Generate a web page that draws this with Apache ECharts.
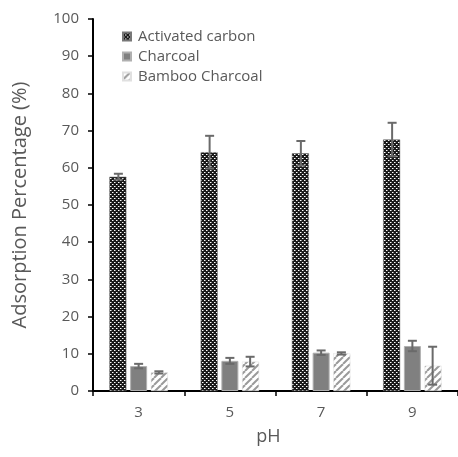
<!DOCTYPE html>
<html><head><meta charset="utf-8">
<script src="https://cdn.jsdelivr.net/npm/echarts@6/dist/echarts.min.js"></script>
<style>html,body{margin:0;padding:0;background:#fff}#c{width:458px;height:457px}</style>
</head><body><div id="c"></div>
<script>
const categories = ['3', '5', '7', '9'];
const activatedCarbon = [57.6, 64.2, 63.9, 67.6];
const activatedErr = [0.8, 4.4, 3.3, 4.5];
const charcoal = [6.7, 8.1, 10.3, 12.1];
const charcoalErr = [0.6, 0.8, 0.6, 1.4];
const bamboo = [5.0, 7.9, 10.1, 6.8];
const bambooErr = [0.3, 1.3, 0.3, 5.1];
const yTicks = [0, 10, 20, 30, 40, 50, 60, 70, 80, 90, 100];

function makePattern(kind) {
  const c = document.createElement('canvas');
  const g = c.getContext('2d');
  if (kind === 'dots') {
    c.width = 4; c.height = 4;
    g.fillStyle = '#1a1a1a'; g.fillRect(0, 0, 4, 4);
    g.fillStyle = '#ffffff';
    g.fillRect(0, 0, 1, 1); g.fillRect(2, 2, 1, 1);
    g.fillStyle = '#8a8a8a';
    g.fillRect(1, 0, 1, 1); g.fillRect(3, 2, 1, 1);
  } else {
    c.width = 7; c.height = 7;
    g.fillStyle = '#ffffff'; g.fillRect(0, 0, 7, 7);
    g.strokeStyle = '#9a9a9a'; g.lineWidth = 2;
    for (let k = -7; k <= 14; k += 7) {
      g.beginPath(); g.moveTo(k, 7); g.lineTo(k + 7, 0); g.stroke();
    }
  }
  return { image: c, repeat: 'repeat' };
}
const patDots = makePattern('dots');
const patStripe = makePattern('stripe');

const chart = echarts.init(document.getElementById('c'));
const FONT = 'Open Sans';
const offsets = [-0.222, 0, 0.222];

function errSeries(vals, errs, k) {
  return {
    type: 'custom',
    z: 5,
    silent: true,
    data: vals.map((v, i) => [i, v, errs[i]]),
    renderItem: function (params, api) {
      const i = api.value(0), v = api.value(1), e = api.value(2);
      const bw = api.size([1, 0])[0];
      const top = api.coord([i, v + e]);
      const bot = api.coord([i, v - e]);
      const x = top[0] + offsets[k] * bw;
      const half = 4.5;
      const st = { stroke: '#6a6a6a', lineWidth: 2 };
      return {
        type: 'group',
        children: [
          { type: 'line', shape: { x1: x, y1: top[1], x2: x, y2: bot[1] }, style: st },
          { type: 'line', shape: { x1: x - half, y1: top[1], x2: x + half, y2: top[1] }, style: st },
          { type: 'line', shape: { x1: x - half, y1: bot[1], x2: x + half, y2: bot[1] }, style: st }
        ]
      };
    }
  };
}

chart.setOption({
  animation: false,
  backgroundColor: '#fff',
  grid: { left: 93, right: -7, top: 19, bottom: 66 },
  legend: {
    left: 117, top: 24, orient: 'vertical', itemGap: 5,
    itemWidth: 8, itemHeight: 8, icon: 'rect',
    textStyle: { fontFamily: FONT, fontSize: 15, lineHeight: 15, color: '#595959', padding: [0, 0, 0, 2] },
    data: ['Activated carbon', 'Charcoal', 'Bamboo Charcoal']
  },
  xAxis: {
    type: 'category', data: categories,
    name: 'pH', nameLocation: 'middle', nameGap: 37,
    nameTextStyle: { fontFamily: FONT, fontSize: 18, color: '#595959', padding: [0, 14, 0, 0] },
    axisLine: { lineStyle: { color: '#000', width: 2 } },
    axisTick: { show: true, length: 5, lineStyle: { color: '#000', width: 1.5 } },
    axisLabel: { fontFamily: FONT, fontSize: 15, color: '#595959', margin: 14 }
  },
  yAxis: {
    type: 'value', min: yTicks[0], max: yTicks[yTicks.length - 1], interval: 10,
    name: 'Adsorption Percentage (%)', nameLocation: 'middle', nameGap: 63,
    nameTextStyle: { fontFamily: FONT, fontSize: 20, color: '#595959' },
    axisLine: { show: true, lineStyle: { color: '#000', width: 2 } },
    axisTick: { show: true, length: 5, lineStyle: { color: '#000', width: 1.5 } },
    axisLabel: { fontFamily: FONT, fontSize: 15, color: '#595959', margin: 14 },
    splitLine: { show: false }
  },
  series: [
    { name: 'Activated carbon', type: 'bar', data: activatedCarbon, barWidth: 17, barGap: '22%',
      itemStyle: { color: patDots, borderColor: '#777', borderWidth: 0.5 } },
    { name: 'Charcoal', type: 'bar', data: charcoal, barWidth: 17, barGap: '22%',
      itemStyle: { color: '#808080', borderColor: '#b0b0b0', borderWidth: 1 } },
    { name: 'Bamboo Charcoal', type: 'bar', data: bamboo, barWidth: 17, barGap: '22%',
      itemStyle: { color: patStripe, borderColor: '#e0e0e0', borderWidth: 0.5 } },
    errSeries(activatedCarbon, activatedErr, 0),
    errSeries(charcoal, charcoalErr, 1),
    errSeries(bamboo, bambooErr, 2)
  ]
});
</script></body></html>
